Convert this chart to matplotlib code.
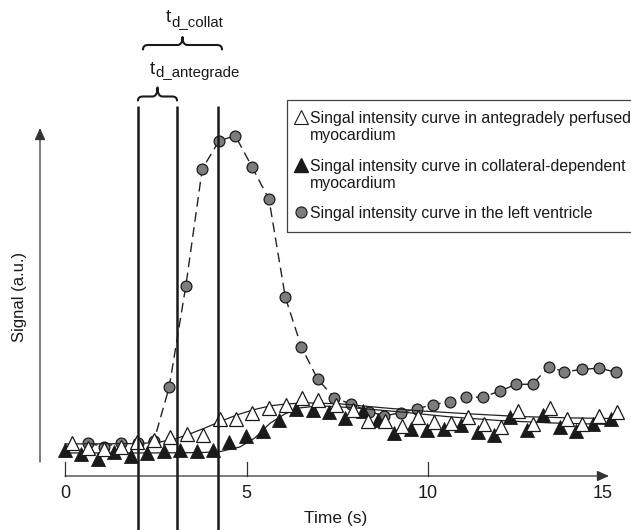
import matplotlib
matplotlib.use("Agg")
import matplotlib.pyplot as plt
from matplotlib.path import Path
from matplotlib.patches import PathPatch, Rectangle

plt.rcParams['font.family'] = ['Liberation Sans', 'DejaVu Sans']

# signal in the left ventricle (grey circles), time in s, signal in a.u.
lv_time = [0.63, 1.08, 1.54, 2.00, 2.45, 2.87, 3.33, 3.78, 4.24, 4.69, 5.16,
           5.62, 6.07, 6.51, 6.96, 7.42, 7.87, 8.38, 8.80, 9.26, 9.69, 10.14,
           10.61, 11.05, 11.51, 11.97, 12.42, 12.88, 13.33, 13.76, 14.23,
           14.72, 15.17]
lv_signal = [9.8, 8.8, 10.0, 9.9, 10.5, 26.6, 57.0, 91.9, 100.3, 101.9, 92.4,
             82.8, 53.5, 38.7, 29.0, 23.4, 21.6, 19.3, 18.0, 19.0, 20.1, 21.4,
             22.3, 23.6, 23.6, 25.4, 27.4, 27.5, 32.7, 31.2, 31.9, 32.3, 31.1]

# antegradely perfused myocardium (open triangles)
ante_time = [0.18, 0.63, 1.08, 1.54, 1.99, 2.44, 2.89, 3.35, 3.81, 4.27, 4.72,
             5.15, 5.62, 6.08, 6.54, 6.98, 7.47, 7.93, 8.35, 8.81, 9.28, 9.72,
             10.17, 10.63, 11.10, 11.54, 12.01, 12.47, 12.90, 13.36, 13.82,
             14.23, 14.72, 15.21]
ante_signal = [10.0, 8.5, 8.1, 8.8, 10.1, 10.9, 11.8, 12.5, 12.3, 17.0, 17.0,
               18.8, 20.4, 21.3, 23.5, 22.8, 21.3, 19.8, 16.4, 16.4, 14.9, 17.8,
               16.3, 16.0, 17.6, 15.5, 14.7, 19.5, 15.5, 20.4, 17.0, 15.5,
               18.0, 19.2]

# collateral-dependent myocardium (filled triangles)
coll_time = [0.0, 0.44, 0.90, 1.36, 1.82, 2.27, 2.73, 3.17, 3.64, 4.09, 4.53,
             4.99, 5.45, 5.90, 6.35, 6.82, 7.27, 7.71, 8.22, 8.63, 9.07, 9.53,
             9.97, 10.45, 10.90, 11.37, 11.81, 12.26, 12.72, 13.17, 13.63,
             14.08, 14.54, 15.04]
coll_signal = [7.8, 6.6, 5.1, 7.1, 6.0, 7.0, 7.4, 7.8, 7.4, 7.9, 10.2, 12.0,
               13.5, 16.7, 20.0, 19.7, 19.1, 17.4, 19.6, 16.7, 12.8, 14.0, 13.9,
               14.0, 15.3, 13.2, 12.3, 17.7, 13.7, 18.3, 14.8, 13.5, 15.7, 17.0]

# fitted curves
ante_fit_time = [0, 2.07, 2.62, 3.03, 3.44, 3.86, 4.27, 4.74, 5.18, 5.65, 6.12,
                 6.75, 7.58, 8.68, 9.78, 11.16, 12.53, 13.91, 15.15]
ante_fit_signal = [9.6, 9.7, 10.2, 11.1, 12.6, 14.4, 16.3, 18.3, 19.8, 21.0,
                   21.6, 21.9, 21.6, 20.5, 19.5, 18.6, 17.8, 17.4, 17.2]
coll_fit_time = [0, 2.34, 3.72, 4.27, 4.82, 5.23, 5.65, 6.06, 6.47, 7.02, 7.85,
                 9.23, 10.61, 11.98, 13.36, 15.15]
coll_fit_signal = [6.9, 6.9, 7.0, 7.3, 8.7, 11.4, 15.8, 18.6, 20.4, 21.0, 20.5,
                   19.2, 17.7, 16.6, 15.9, 15.4]

delay_lines = [2.01, 3.08, 4.21]
x_ticks = [0, 5, 10]
x_tick_labels = ['0', '5', '10', '15']
x_label_pos = [0, 5, 10, 14.8]

legend_labels = [
    ['Singal intensity curve in antegradely perfused', 'myocardium'],
    ['Singal intensity curve in collateral-dependent', 'myocardium'],
    ['Singal intensity curve in the left ventricle'],
]

# pixel layout of the picture
X0, PX_PER_S = 65, 36.3
Y0, PX_PER_U = 476, 3.34


def tx(px):
    return (px - X0) / PX_PER_S


def sy(py):
    return (Y0 - py) / PX_PER_U


def brace(ax, x0, x1, yb, yend, ytip, r=5):
    xm = (x0 + x1) / 2
    pts = [(x0, yend), (x0, yb), (x0 + r, yb), (xm - r, yb), (xm, yb), (xm, ytip),
           (xm, yb), (xm + r, yb), (x1 - r, yb), (x1, yb), (x1, yend)]
    codes = [Path.MOVETO, Path.CURVE3, Path.CURVE3, Path.LINETO, Path.CURVE3,
             Path.CURVE3, Path.CURVE3, Path.CURVE3, Path.LINETO, Path.CURVE3,
             Path.CURVE3]
    path = Path([(tx(a), sy(b)) for a, b in pts], codes)
    ax.add_patch(PathPatch(path, fill=False, lw=1.5, color='#1a1a1a',
                           capstyle='round', joinstyle='round'))


fig = plt.figure(figsize=(6.31, 5.30), dpi=100)
ax = fig.add_axes([0, 0, 1, 1])
ax.set_xlim(tx(0), tx(631))
ax.set_ylim(sy(530), sy(0))
ax.axis('off')

# curves and points
ax.plot(lv_time, lv_signal, ls=(0, (7, 4)), lw=1.0, color='#222222', zorder=2)
ax.plot(lv_time, lv_signal, 'o', ms=7.8, mfc='#7d7d7d', mec='#1a1a1a', mew=0.9,
        zorder=2.2)
ax.plot(ante_fit_time, ante_fit_signal, '-', lw=0.9, color='#222222', zorder=2.5)
ax.plot(coll_fit_time, coll_fit_signal, '-', lw=0.9, color='#222222', zorder=2.5)
ax.plot(coll_time, coll_signal, '^', ms=9.5, mfc='#1a1a1a', mec='#1a1a1a',
        mew=0.6, zorder=3)
ax.plot(ante_time, ante_signal, '^', ms=9.5, mfc='white', mec='#1a1a1a',
        mew=0.9, zorder=4)

# delay lines
for t in delay_lines:
    ax.plot([t, t], [sy(106), sy(531)], color='#1a1a1a', lw=1.8, zorder=5,
            solid_capstyle='butt')

# axes with arrows
arrow = dict(arrowstyle='-|>,head_length=0.45,head_width=0.2', color='#333333',
             lw=0.9, shrinkA=0, shrinkB=0, mutation_scale=16)
ax.annotate('', xy=(tx(609), 0), xytext=(0, 0), arrowprops=arrow)
ax.annotate('', xy=(tx(40), sy(128)), xytext=(tx(40), sy(462)), arrowprops=arrow)
for t in x_ticks:
    ax.plot([t, t], [0, sy(462)], color='#333333', lw=0.9)
for pos, lab in zip(x_label_pos, x_tick_labels):
    ax.text(pos, sy(493), lab, ha='center', va='center', fontsize=13,
            color='#1a1a1a')
ax.text(tx(336), sy(519), 'Time (s)', ha='center', va='center', fontsize=12.5,
        color='#1a1a1a')
ax.text(tx(20), sy(297), 'Signal (a.u.)', ha='center', va='center',
        rotation=90, fontsize=12, color='#1a1a1a')

# delay annotations
brace(ax, 143, 222, 45, 49.5, 37)
brace(ax, 138, 177, 96.5, 100.5, 87.5)
ax.text(tx(171), sy(22), 't', ha='right', va='baseline', fontsize=13.5,
        color='#1a1a1a')
ax.text(tx(171), sy(26.5), 'd_collat', ha='left', va='baseline', fontsize=10.8,
        color='#1a1a1a')
ax.text(tx(155), sy(74), 't', ha='right', va='baseline', fontsize=13.5,
        color='#1a1a1a')
ax.text(tx(155), sy(77), 'd_antegrade', ha='left', va='baseline', fontsize=10.8,
        color='#1a1a1a')

# legend box
ax.add_patch(Rectangle((tx(287), sy(232)), tx(640) - tx(287), sy(100) - sy(232),
                       fill=False, lw=0.9, edgecolor='#444444', zorder=6))
ax.plot(tx(301), sy(117), '^', ms=10, mfc='white', mec='#1a1a1a', mew=0.8,
        zorder=7)
ax.plot(tx(301), sy(165), '^', ms=10, mfc='#1a1a1a', mec='#1a1a1a', zorder=7)
ax.plot(tx(301), sy(212), 'o', ms=8, mfc='#7d7d7d', mec='#1a1a1a', mew=0.8,
        zorder=7)
baselines = [[123, 139.5], [171, 187.5], [218]]
for lines, ys in zip(legend_labels, baselines):
    for line, yb in zip(lines, ys):
        ax.text(tx(310), sy(yb), line, ha='left', va='baseline',
                fontsize=11.4, color='#1a1a1a', zorder=7)

fig.savefig('out.png', dpi=100)
